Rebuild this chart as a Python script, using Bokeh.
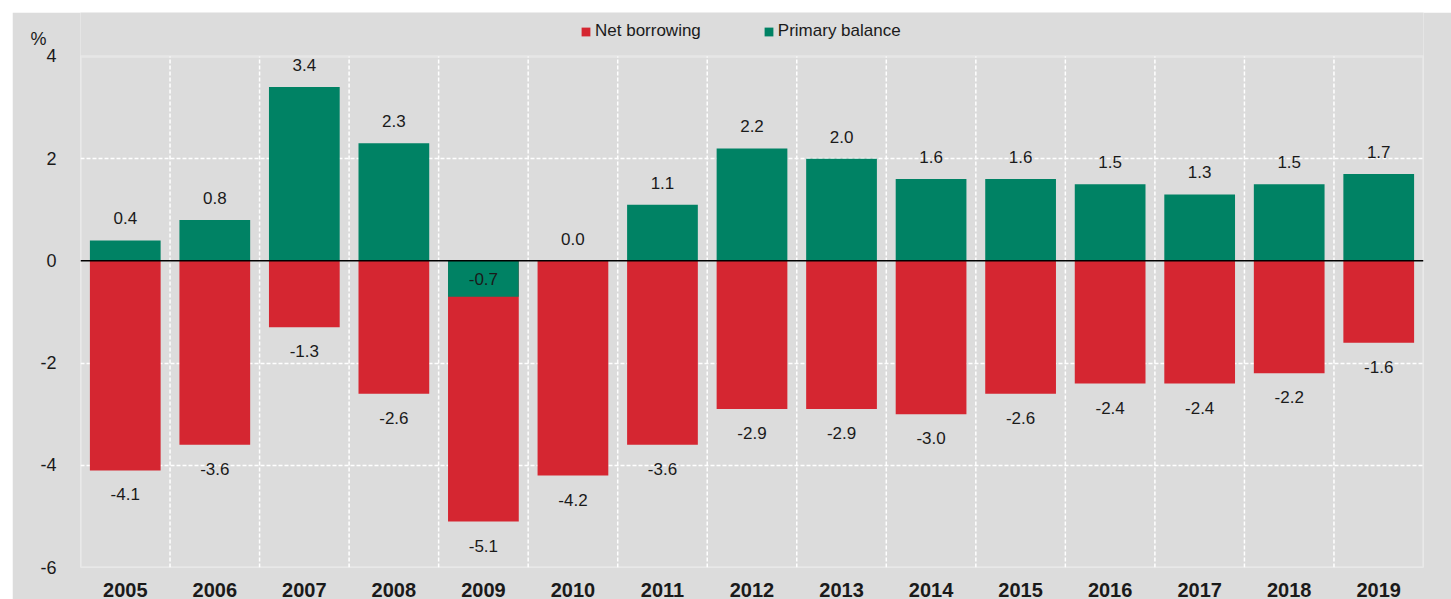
import numpy as np
from bokeh.plotting import figure
from bokeh.models import (ColumnDataSource, Range1d, FixedTicker, Span, Legend, LegendItem,
                          BoxAnnotation)
from bokeh.core.properties import value
from bokeh.embed import file_html
from bokeh.resources import INLINE

years = ["2005", "2006", "2007", "2008", "2009", "2010", "2011", "2012",
         "2013", "2014", "2015", "2016", "2017", "2018", "2019"]
net_borrowing = [-4.1, -3.6, -1.3, -2.6, -5.1, -4.2, -3.6, -2.9, -2.9, -3.0, -2.6, -2.4, -2.4, -2.2, -1.6]
primary_balance = [0.4, 0.8, 3.4, 2.3, -0.7, 0.0, 1.1, 2.2, 2.0, 1.6, 1.6, 1.5, 1.3, 1.5, 1.7]
y_ticks = [-6, -4, -2, 0, 2, 4]
unit_label = "%"

RED = "#D52631"
GREEN = "#008264"
BG = "#DCDCDC"
FONT = "Liberation Sans"
TXT = "#1a1a1a"

y_min, y_max = y_ticks[0], y_ticks[-1]
HEADROOM = 0.86      # extra room above the plot box for the legend / unit label
UNIT_POS = y_max + 0.35

n = len(years)
x = np.arange(n)
pb = np.array(primary_balance)
src = ColumnDataSource(dict(
    x=x, net=net_borrowing, pb=primary_balance,
    net_lbl=[f"{v:.1f}" for v in net_borrowing],
    pb_lbl=[f"{v:.1f}" for v in primary_balance],
    pb_y=np.where(pb >= 0, pb, pb / 2),
    pb_off=np.where(pb >= 0, -22, 0),
))
sep = np.arange(1, n) - 0.5
sep_src = ColumnDataSource(dict(x=sep, y0=[y_min] * len(sep), y1=[y_max] * len(sep)))

p = figure(frame_width=1343, frame_height=555, output_backend="svg", toolbar_location=None,
           x_range=Range1d(-0.5, n - 0.5), y_range=Range1d(y_min, y_max + HEADROOM),
           min_border_left=68, min_border_right=28, min_border_top=0, min_border_bottom=32)
p.margin = (12, 0, 0, 12)
p.background_fill_color = BG
p.border_fill_color = BG
p.outline_line_color = None

# vertical dashed separators inside the plot box
p.segment(x0="x", y0="y0", x1="x", y1="y1", source=sep_src, line_color="white",
          line_width=1.5, line_dash="4 2")

r_net = p.vbar(x="x", top="net", bottom=0, width=0.79, source=src, fill_color=RED, line_color=None)
r_pb = p.vbar(x="x", top="pb", bottom=0, width=0.79, source=src, fill_color=GREEN, line_color=None)

p.add_layout(BoxAnnotation(left=-0.5, right=n - 0.5, bottom=y_min, top=y_max,
                           fill_alpha=0, line_color="white", line_width=2.5))
p.add_layout(Span(location=0, dimension="width", line_color="black", line_width=1.5))

p.text(x="x", y="net", text="net_lbl", source=src, y_offset=24, text_align="center",
       text_baseline="middle", text_font=value(FONT), text_font_size="17px", text_color=TXT)
p.text(x="x", y="pb_y", text="pb_lbl", source=src, y_offset="pb_off", text_align="center",
       text_baseline="middle", text_font=value(FONT), text_font_size="17px", text_color=TXT)

# axes
p.xaxis.ticker = FixedTicker(ticks=list(x))
p.xaxis.major_label_overrides = {int(i): y for i, y in zip(x, years)}
p.xaxis.major_label_text_font = FONT
p.xaxis.major_label_text_font_style = "bold"
p.xaxis.major_label_text_font_size = "20px"
p.xaxis.major_label_text_color = TXT
p.xaxis.major_label_standoff = 9
p.xaxis.axis_line_color = None
p.xaxis.major_tick_line_color = None
p.xaxis.minor_tick_line_color = None

overrides = {t: str(t) for t in y_ticks}
overrides[UNIT_POS] = unit_label + "\u00a0\u00a0"
p.yaxis.ticker = FixedTicker(ticks=y_ticks + [UNIT_POS])
p.yaxis.major_label_overrides = overrides
p.yaxis.major_label_text_font = FONT
p.yaxis.major_label_text_font_size = "18px"
p.yaxis.major_label_text_color = TXT
p.yaxis.major_label_standoff = 18
p.yaxis.axis_line_color = None
p.yaxis.major_tick_line_color = None
p.yaxis.minor_tick_line_color = None

# grids
p.xgrid.visible = False
p.ygrid.ticker = FixedTicker(ticks=[-4, -2, 2])
p.ygrid.grid_line_color = "white"
p.ygrid.grid_line_width = 1.5
p.ygrid.grid_line_dash = "4 2"

legend = Legend(items=[LegendItem(label="Net borrowing", renderers=[r_net]),
                       LegendItem(label="Primary balance", renderers=[r_pb])],
                orientation="horizontal", location=(500, 526),
                background_fill_alpha=0, border_line_color=None,
                glyph_width=11, glyph_height=11, label_standoff=4, spacing=62,
                padding=0, margin=0,
                label_text_font=FONT, label_text_font_size="17px", label_text_color=TXT)
p.add_layout(legend)

open("out.html", "w").write(file_html(p, INLINE))
